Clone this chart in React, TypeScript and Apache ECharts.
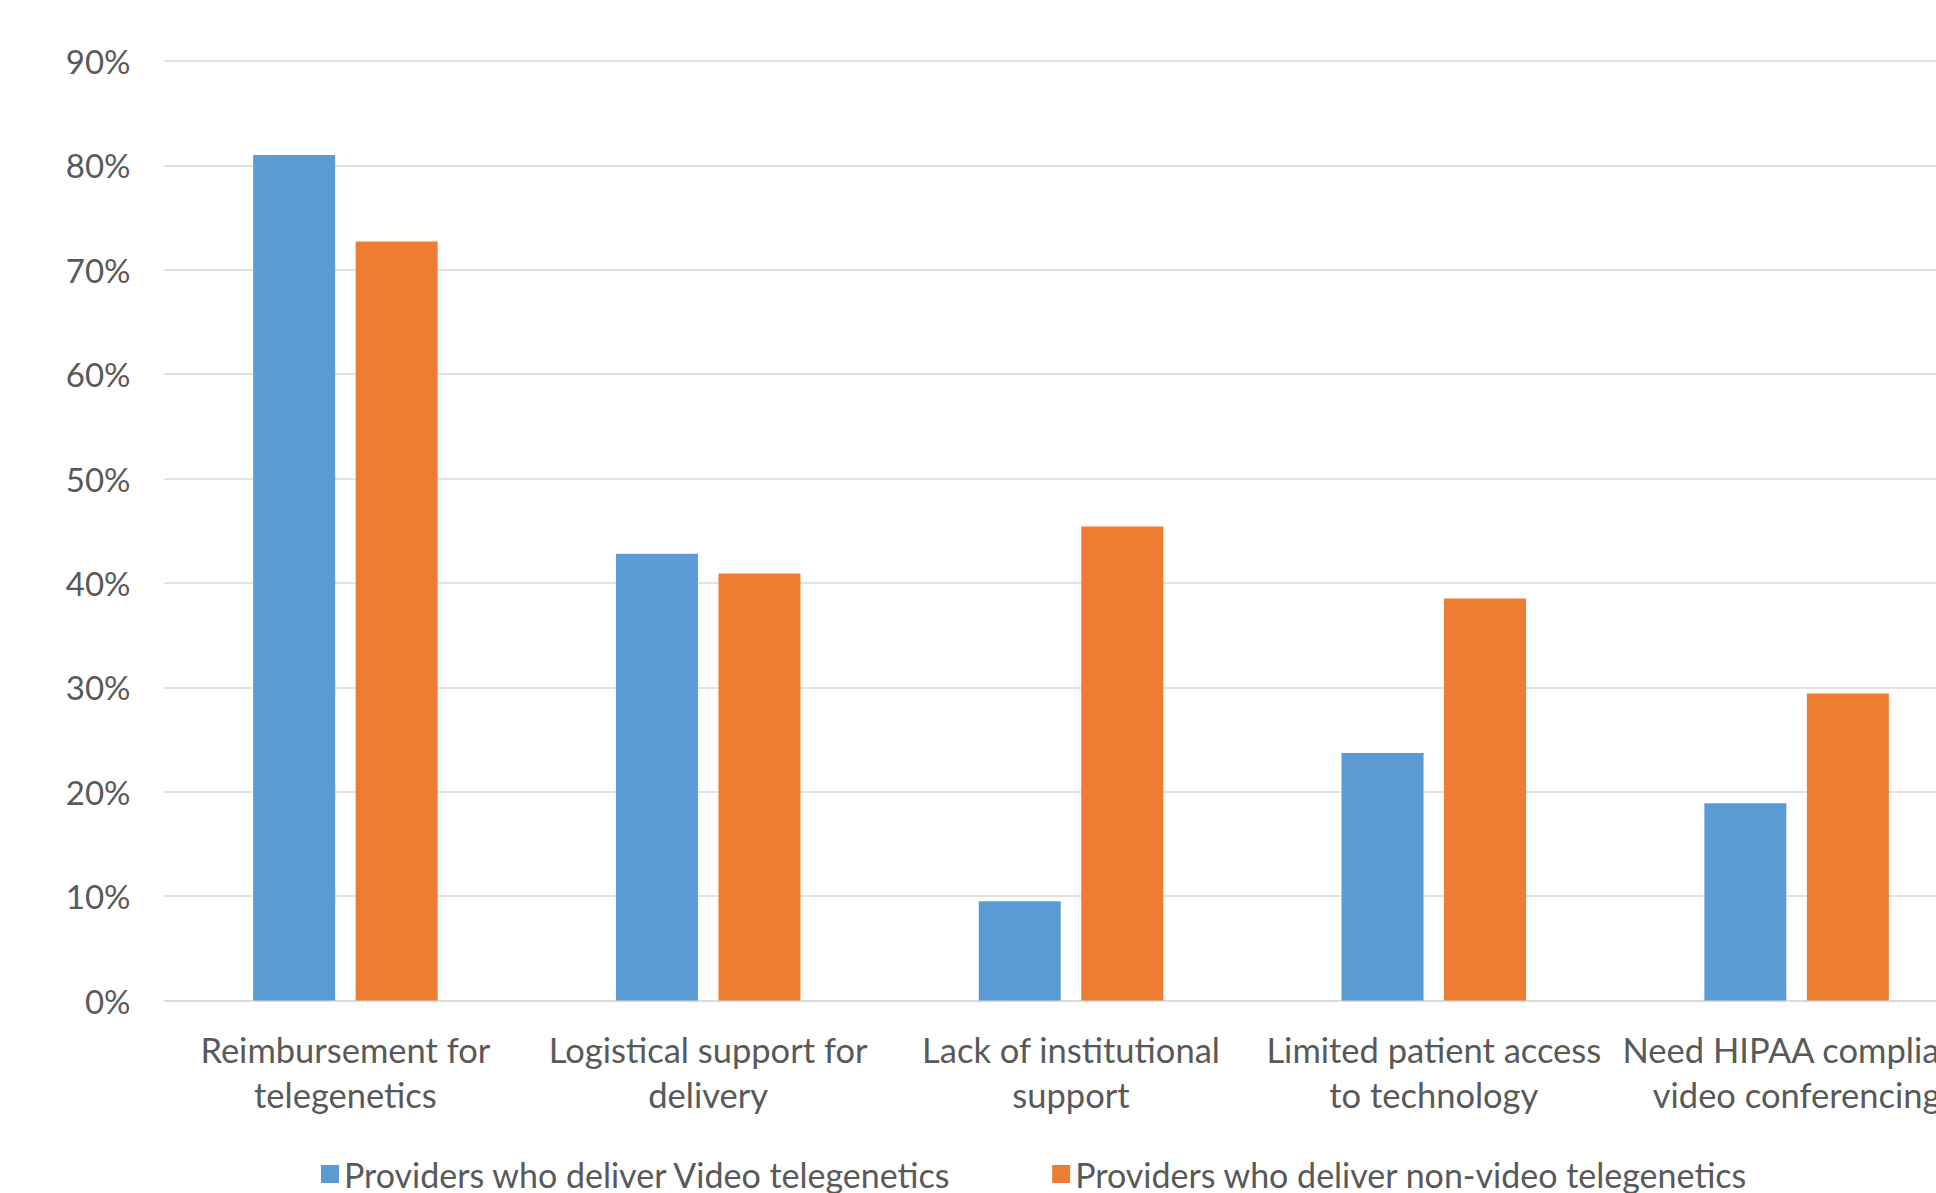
import React, { useEffect, useRef } from "react";
import * as echarts from "echarts";

const categories = [
  "Reimbursement for\ntelegenetics",
  "Logistical support for\ndelivery",
  "Lack of institutional\nsupport",
  "Limited patient access\nto technology",
  "Need HIPAA compliant\nvideo conferencing",
];
const seriesNames = [
  "Providers who deliver Video telegenetics",
  "Providers who deliver non-video telegenetics",
];
const videoValues = [81.0, 42.8, 9.5, 23.7, 18.9];
const nonVideoValues = [72.7, 40.9, 45.4, 38.5, 29.4];
const yTicks = [0, 10, 20, 30, 40, 50, 60, 70, 80, 90];

const FONT = "Lato, 'Open Sans', sans-serif";
const TEXT = "#595959";

export default function App() {
  const ref = useRef<HTMLDivElement>(null);
  useEffect(() => {
    if (!ref.current) return;
    const chart = echarts.init(ref.current, undefined, { renderer: "svg" });
    chart.setOption({
      animation: false,
      backgroundColor: "#ffffff",
      textStyle: { fontFamily: FONT },
      grid: { left: 164, right: 100, top: 61, bottom: 192.5, containLabel: false },
      legend: {
        left: 316,
        top: 1152,
        itemWidth: 18,
        itemHeight: 18,
        itemGap: 100,
        icon: "rect",
        textStyle: { fontFamily: FONT, fontSize: 34, color: TEXT },
        data: seriesNames,
      },
      xAxis: {
        type: "category",
        data: categories,
        axisLine: { lineStyle: { color: "#d9d9d9", width: 1.5 } },
        axisTick: { show: false },
        axisLabel: {
          interval: 0,
          margin: 26,
          fontFamily: FONT,
          fontSize: 34.5,
          lineHeight: 45,
          color: TEXT,
        },
      },
      yAxis: {
        type: "value",
        min: yTicks[0],
        max: yTicks[yTicks.length - 1],
        interval: 10,
        axisLine: { show: false },
        axisTick: { show: false },
        splitLine: { lineStyle: { color: "#d9d9d9", width: 1.5 } },
        axisLabel: {
          margin: 33.5,
          fontFamily: FONT,
          fontSize: 33,
          color: TEXT,
          formatter: "{value}%",
        },
      },
      series: [
        {
          name: seriesNames[0],
          type: "bar",
          data: videoValues,
          barWidth: 82,
          barGap: "25%",
          itemStyle: { color: "#5B9BD5" },
        },
        {
          name: seriesNames[1],
          type: "bar",
          data: nonVideoValues,
          barWidth: 82,
          barGap: "25%",
          itemStyle: { color: "#ED7D31" },
        },
      ],
    });
    return () => chart.dispose();
  }, []);
  return (
    <div
      ref={ref}
      style={{ position: "fixed", left: 0, top: 0, width: 2078, height: 1193, background: "#fff" }}
    />
  );
}
